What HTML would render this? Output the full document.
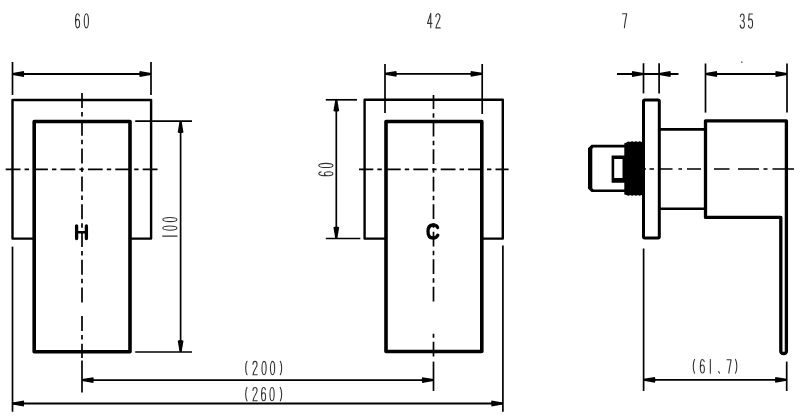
<!DOCTYPE html>
<html><head><meta charset="utf-8">
<style>
html,body{margin:0;padding:0;background:#fff;width:800px;height:418px;overflow:hidden}
svg{display:block}
</style></head>
<body>
<svg width="800" height="418" viewBox="0 0 800 418">
<defs>
  <path id="arr" d="M0,-1.0 L11.3,-2.9 Q12.6,0 11.3,2.9 L0,1.0 Z" fill="#000"/>
  <g id="g0"><ellipse cx="2.75" cy="7.25" rx="2.1" ry="7.05" fill="none"/></g>
  <g id="g1"><path d="M2.75,0 L2.75,14.5" fill="none"/></g>
  <g id="g2"><path d="M0.71,3.2 C0.71,1.2 1.59,0.2 2.75,0.2 C3.91,0.2 4.79,1.3 4.79,3.4 C4.79,6.5 0.71,10.5 0.71,14.3 L4.95,14.3" fill="none"/></g>
  <g id="g3"><path d="M0.79,2.8 C0.95,1 1.75,0.2 2.75,0.2 C3.91,0.2 4.55,1.5 4.55,3.6 C4.55,5.8 3.75,6.9 2.39,6.9 C3.99,6.9 4.79,8.5 4.79,10.6 C4.79,13 3.91,14.3 2.75,14.3 C1.59,14.3 0.79,13.2 0.63,11.3" fill="none"/></g>
  <g id="g4"><path d="M3.75,14.5 L3.75,0.2 L0.55,10.2 L4.95,10.2" fill="none"/></g>
  <g id="g5"><path d="M4.63,0.2 L1.27,0.2 L0.87,6.5 C1.35,5.7 1.99,5.3 2.75,5.3 C4.07,5.3 4.79,7 4.79,9.8 C4.79,12.7 3.99,14.3 2.75,14.3 C1.51,14.3 0.79,13.2 0.63,11.5" fill="none"/></g>
  <g id="g6"><path d="M4.63,2.4 C4.39,0.9 3.67,0.2 2.75,0.2 C1.35,0.2 0.71,3 0.71,7.5 C0.71,12 1.35,14.3 2.75,14.3 C4.07,14.3 4.79,12.5 4.79,10 C4.79,7.5 4.07,5.8 2.75,5.8 C1.59,5.8 0.79,7.3 0.71,9.3" fill="none"/></g>
  <g id="g7"><path d="M0.8,0.3 L4.95,0.3 C4.2,4 3.1,9 2.6,14.4" fill="none"/></g>
  <g id="glp"><path d="M2.8,0 C1,3 1,11.5 2.8,14.5" fill="none"/></g>
  <g id="grp"><path d="M0.5,0 C2.3,3 2.3,11.5 0.5,14.5" fill="none"/></g>
  <g id="gcm"><path d="M1.5,12.8 L2.2,14.5" fill="none"/></g>
</defs>

<g fill="none" stroke="#000" stroke-linecap="butt" stroke-linejoin="round">

<!-- ===== H view ===== -->
<rect x="12.5" y="100" width="138.6" height="138.6" stroke-width="2.4" fill="#fff"/>
<rect x="34.2" y="121.5" width="95.8" height="230.2" stroke-width="3.6" fill="#fff"/>
<line x1="82" y1="93" x2="82" y2="303" stroke-width="1.7" stroke-dasharray="15 4 4.5 4.3"/>
<line x1="82" y1="315.6" x2="82" y2="358" stroke-width="1.7" stroke-dasharray="15 4 4.5 4.3" stroke-dashoffset="-0.4"/>
<line x1="5.3" y1="169.4" x2="158.3" y2="169.4" stroke-width="1.7" stroke-dasharray="14.8 4.1 4.4 4.1" stroke-dashoffset="-0.4"/>

<!-- dim 60 top -->
<line x1="12.5" y1="62" x2="12.5" y2="95" stroke-width="1.7"/>
<line x1="151" y1="62" x2="151" y2="95" stroke-width="1.7"/>
<line x1="12.5" y1="74" x2="151" y2="74" stroke-width="1.8"/>

<!-- dim 100 -->
<line x1="135.2" y1="121.1" x2="192" y2="121.1" stroke-width="1.7"/>
<line x1="135.2" y1="352" x2="192" y2="352" stroke-width="1.7"/>
<line x1="180.6" y1="121.1" x2="180.6" y2="352" stroke-width="1.7"/>

<!-- ext (260) left -->
<line x1="12.5" y1="246.6" x2="12.5" y2="411.7" stroke-width="1.7"/>
<!-- ext (200) left -->
<line x1="82" y1="360.5" x2="82" y2="392.5" stroke-width="1.7"/>

<!-- ===== C view ===== -->
<rect x="364.6" y="99.8" width="138.2" height="138.8" stroke-width="2.4" fill="#fff"/>
<rect x="386" y="121.5" width="95.8" height="230" stroke-width="3.6" fill="#fff"/>
<line x1="433.5" y1="95" x2="433.5" y2="301.5" stroke-width="1.7" stroke-dasharray="14.8 4.1 4.5 4.1" stroke-dashoffset="0.75"/>
<line x1="433.5" y1="333.8" x2="433.5" y2="357.5" stroke-width="1.7" stroke-dasharray="14.8 4.1 4.5 4.1" stroke-dashoffset="19.55"/>
<line x1="359" y1="169.4" x2="508.6" y2="169.4" stroke-width="1.7" stroke-dasharray="14.8 4.1 4.4 4.1" stroke-dashoffset="0.5"/>

<!-- dim 42 -->
<line x1="385" y1="64" x2="385" y2="113" stroke-width="1.7"/>
<line x1="482.2" y1="64" x2="482.2" y2="114" stroke-width="1.7"/>
<line x1="385" y1="73.8" x2="482.2" y2="73.8" stroke-width="1.8"/>

<!-- dim 60 C -->
<line x1="325.8" y1="99.8" x2="357" y2="99.8" stroke-width="1.7"/>
<line x1="325.8" y1="238.5" x2="360.3" y2="238.5" stroke-width="1.7"/>
<line x1="336.3" y1="99.8" x2="336.3" y2="238.5" stroke-width="1.7"/>

<!-- ext (200) right, (260) right -->
<line x1="433.5" y1="361.6" x2="433.5" y2="391" stroke-width="1.7"/>
<line x1="502.9" y1="245.5" x2="502.9" y2="411.7" stroke-width="1.7"/>

<!-- bottom dims -->
<line x1="82" y1="380.1" x2="433.5" y2="380.1" stroke-width="1.8"/>
<line x1="12.5" y1="403.5" x2="502.8" y2="403.5" stroke-width="1.8"/>

<!-- ===== Side view ===== -->
<rect x="643.5" y="99.9" width="15.8" height="138.1" rx="1.2" stroke-width="3" fill="#fff"/>
<line x1="659" y1="129.4" x2="705.5" y2="129.4" stroke-width="2.6"/>
<line x1="659" y1="208.8" x2="705.5" y2="208.8" stroke-width="2.6"/>
<path d="M705.5,217.4 L705.5,120.8 L786.4,120.8 L786.4,351 Q786.4,353.5 783.6,353.5 Q780.8,353.5 780.8,351 L780.8,217.4 Z" stroke-width="3.3" fill="#fff"/>
<path d="M644,169 L646,169 M649.5,169 L654,169 M658,169 L672.5,169 M678.5,169 L682,169 M687,169 L701,169 M714,169 L729.5,169 M738,169 L759,169 M763.5,169 L767.5,169 M772.5,169 L794,169" stroke-width="1.7"/>
<!-- spindle -->
<path d="M625,144.8 L591.5,144.8 L588,148.3 L588,188.5 L591.5,192 L625,192 Z M625,147.5 L593.5,147.5 L592.3,148.7 L592.3,188.3 L593.5,189.5 L625,189.5 Z" fill="#000" fill-rule="evenodd" stroke="none"/>
<path d="M611.6,155.5 L625,155.5 L625,182.7 L611.6,182.7 Z M614.2,159 L622.5,159 L622.5,178 L614.2,178 Z" fill="#000" fill-rule="evenodd" stroke="none"/>
<!-- threads -->
<path d="M624.3,143.2 L626.5,142.4 Q628.37,140.6 630.25,142.0 Q632.12,140.6 634.00,142.0 Q635.87,140.6 637.75,142.0 Q639.62,140.6 641.50,142.0 L644,141.5 L644,195.8 L641.5,195.0 Q639.63,196.6 637.75,195.0 Q635.88,196.6 634.00,195.0 Q632.13,196.6 630.25,195.0 Q628.38,196.6 626.50,195.0 L624.3,194.6 Z" fill="#000" stroke="none"/>

<!-- dim 7 -->
<line x1="643.5" y1="63.2" x2="643.5" y2="93.4" stroke-width="1.7"/>
<line x1="659.1" y1="63.2" x2="659.1" y2="93.4" stroke-width="1.7"/>
<line x1="617" y1="74" x2="678.5" y2="74" stroke-width="1.8"/>
<!-- dim 35 -->
<line x1="705.5" y1="63.5" x2="705.5" y2="112.6" stroke-width="1.7"/>
<line x1="787" y1="63.5" x2="787" y2="112.6" stroke-width="1.7"/>
<line x1="705.5" y1="74" x2="787" y2="74" stroke-width="1.8"/>
<!-- dim 61.7 -->
<line x1="643.6" y1="248.5" x2="643.6" y2="391" stroke-width="1.7"/>
<line x1="786.7" y1="361.6" x2="786.7" y2="391" stroke-width="1.7"/>
<line x1="643.6" y1="379.8" x2="786.7" y2="379.8" stroke-width="1.8"/>
</g>

<!-- arrows -->
<g fill="#000">
<use href="#arr" transform="translate(12.5,74)"/>
<use href="#arr" transform="translate(151,74) rotate(180)"/>
<use href="#arr" transform="translate(180.6,121.1) rotate(90)"/>
<use href="#arr" transform="translate(180.6,352) rotate(-90)"/>
<use href="#arr" transform="translate(385,73.8)"/>
<use href="#arr" transform="translate(482.2,73.8) rotate(180)"/>
<use href="#arr" transform="translate(336.3,99.8) rotate(90)"/>
<use href="#arr" transform="translate(336.3,238.5) rotate(-90)"/>
<use href="#arr" transform="translate(82,380.1)"/>
<use href="#arr" transform="translate(433.5,380.1) rotate(180)"/>
<use href="#arr" transform="translate(12.5,403.5)"/>
<use href="#arr" transform="translate(502.8,403.5) rotate(180)"/>
<use href="#arr" transform="translate(643.5,74) rotate(180)"/>
<use href="#arr" transform="translate(659.1,74)"/>
<use href="#arr" transform="translate(705.5,74)"/>
<use href="#arr" transform="translate(787,74) rotate(180)"/>
<use href="#arr" transform="translate(643.6,379.8)"/>
<use href="#arr" transform="translate(786.7,379.8) rotate(180)"/>
</g>

<!-- text glyphs -->
<g fill="none" stroke="#333" stroke-width="1.1" stroke-linecap="round" stroke-linejoin="round">
  <!-- 60 top -->
  <use href="#g6" transform="translate(74.8,13.6)"/>
  <use href="#g0" transform="translate(83.6,13.6)"/>
  <!-- 42 -->
  <use href="#g4" transform="translate(427,13.2)"/>
  <use href="#g2" transform="translate(435.2,13.6)"/>
  <!-- 7 -->
  <use href="#g7" transform="translate(621.8,13.4)"/>
  <!-- 35 -->
  <use href="#g3" transform="translate(739.6,13.8)"/>
  <use href="#g5" transform="translate(747.8,13.8)"/>
  <!-- (200) -->
  <use href="#glp" transform="translate(244.2,361.2) scale(1,0.94)"/>
  <use href="#g2" transform="translate(252.3,361.2) scale(1,0.94)"/>
  <use href="#g0" transform="translate(261.3,361.2) scale(1,0.94)"/>
  <use href="#g0" transform="translate(269.8,361.2) scale(1,0.94)"/>
  <use href="#grp" transform="translate(279.8,361.2) scale(1,0.94)"/>
  <!-- (260) -->
  <use href="#glp" transform="translate(244.2,387.4) scale(1,0.93)"/>
  <use href="#g2" transform="translate(252.3,387.4) scale(1,0.93)"/>
  <use href="#g6" transform="translate(260.8,387.4) scale(1,0.93)"/>
  <use href="#g0" transform="translate(269.3,387.4) scale(1,0.93)"/>
  <use href="#grp" transform="translate(279.8,387.4) scale(1,0.93)"/>
  <!-- (61,7) -->
  <use href="#glp" transform="translate(691.8,359.4) scale(1,0.95)"/>
  <use href="#g6" transform="translate(699.6,359.4) scale(1,0.95)"/>
  <use href="#g1" transform="translate(707.6,359.4) scale(1,0.95)"/>
  <use href="#gcm" transform="translate(717.2,359.4) scale(1,0.95)"/>
  <use href="#g7" transform="translate(726.2,359.4) scale(1,0.95)"/>
  <use href="#grp" transform="translate(735,359.4) scale(1,0.95)"/>
  <!-- 100 rotated -->
  <use href="#g1" transform="translate(162.6,238.85) rotate(-90)"/>
  <use href="#g0" transform="translate(162.6,230.85) rotate(-90)"/>
  <use href="#g0" transform="translate(162.6,222.3) rotate(-90)"/>
  <!-- 60 rotated -->
  <use href="#g6" transform="translate(318.6,176.5) rotate(-90)"/>
  <use href="#g0" transform="translate(318.6,168.2) rotate(-90)"/>
</g>

<circle cx="741.8" cy="62.2" r="0.9" fill="#777"/>
<!-- H and C -->
<g fill="none" stroke="#000" stroke-width="3.3" stroke-linecap="round">
  <path d="M76.6,225.8 L76.6,238.5 M86.4,225.8 L86.4,238.5"/><path d="M76.6,232.2 L86.4,232.2" stroke-width="2.6"/>
  <path d="M437.6,227.5 C436.8,225.5 435.2,225 433.2,225 C429.8,225 428,227.5 428,231.5 C428,235.5 429.8,238 433.2,238 C435.2,238 436.8,237.2 437.8,235.2"/>
</g>
</svg>
</body></html>
